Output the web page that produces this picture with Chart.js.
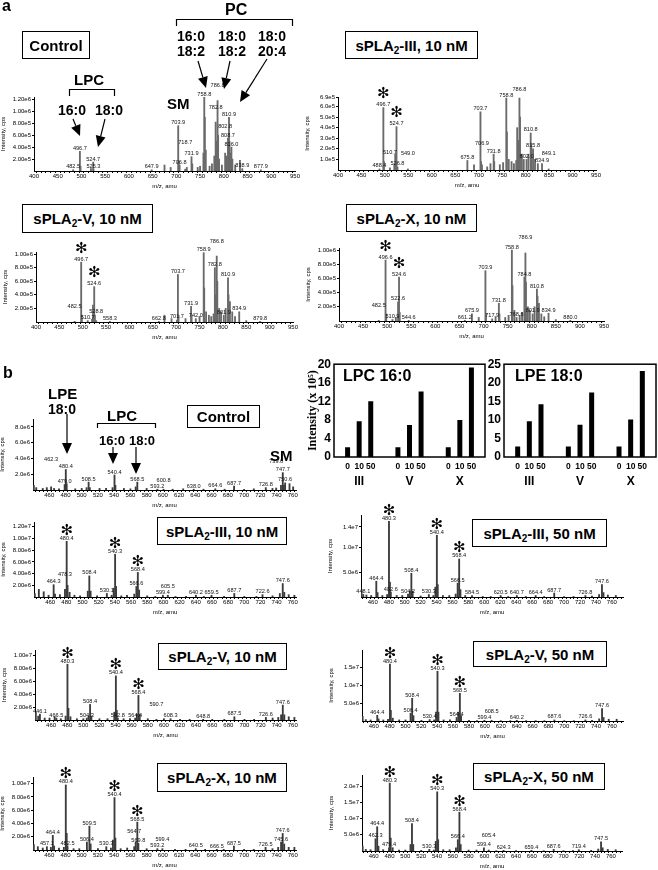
<!DOCTYPE html>
<html>
<head>
<meta charset="utf-8">
<script src="https://cdn.jsdelivr.net/npm/chart.js@4.4.1/dist/chart.umd.min.js"></script>
<style>
  body { margin:0; width:658px; height:870px; position:relative; background:#fff; overflow:hidden;
         font-family:"Liberation Sans", Arial, sans-serif; }
  canvas { position:absolute; }
  .t { position:absolute; font-weight:bold; line-height:1; white-space:nowrap; color:#000; z-index:3; }
  .box { position:absolute; border:1px solid #000; background:#fff; font-weight:bold; font-size:15px;
         display:flex; align-items:center; justify-content:center; white-space:nowrap; z-index:3; box-sizing:border-box; }
  .box sub { font-size:10px; line-height:0; vertical-align:-3px; }
  svg { position:absolute; left:0; top:0; z-index:2; }
</style>
</head>
<body>
<svg id="ann" width="658" height="870"></svg>

<!-- panel a -->
<div class="t" style="left:2px;top:-2px;font-size:16px">a</div>
<div class="t" style="left:225px;top:2px;font-size:16px">PC</div>
<div class="t" style="left:177px;top:29px;font-size:14px;line-height:15px">16:0<br>18:2</div>
<div class="t" style="left:218px;top:29px;font-size:14px;line-height:15px">18:0<br>18:2</div>
<div class="t" style="left:258px;top:29px;font-size:14px;line-height:15px">18:0<br>20:4</div>
<div class="box" style="left:22px;top:31px;width:68px;height:28px"><span>Control</span></div>
<div class="t" style="left:74px;top:72px;font-size:15px">LPC</div>
<div class="t" style="left:58px;top:103px;font-size:14px">16:0</div>
<div class="t" style="left:95px;top:103px;font-size:14px">18:0</div>
<div class="t" style="left:167px;top:96px;font-size:15px">SM</div>
<div class="box" style="left:345px;top:31px;width:133px;height:28px"><span>sPLA<sub>2</sub>-III, 10 nM</span></div>
<div class="box" style="left:22px;top:204px;width:131px;height:29px"><span>sPLA<sub>2</sub>-V, 10 nM</span></div>
<div class="box" style="left:346px;top:204px;width:131px;height:28px"><span>sPLA<sub>2</sub>-X, 10 nM</span></div>

<!-- panel b -->
<div class="t" style="left:3px;top:365px;font-size:16px">b</div>
<div class="t" style="left:48px;top:386px;font-size:15px">LPE</div>
<div class="t" style="left:48px;top:402px;font-size:14px">18:0</div>
<div class="t" style="left:107px;top:408px;font-size:15px">LPC</div>
<div class="box" style="left:187px;top:405px;width:73px;height:23px"><span>Control</span></div>
<div class="t" style="left:99px;top:434px;font-size:13px">16:0</div>
<div class="t" style="left:129px;top:434px;font-size:13px">18:0</div>
<div class="t" style="left:270px;top:448px;font-size:15px">SM</div>
<div class="t" style="left:343px;top:368px;font-size:16px">LPC 16:0</div>
<div class="t" style="left:515px;top:368px;font-size:16px">LPE 18:0</div>
<div class="box" style="left:157px;top:517px;width:130px;height:28px"><span>sPLA<sub>2</sub>-III, 10 nM</span></div>
<div class="box" style="left:158px;top:643px;width:129px;height:27px"><span>sPLA<sub>2</sub>-V, 10 nM</span></div>
<div class="box" style="left:157px;top:763px;width:130px;height:29px"><span>sPLA<sub>2</sub>-X, 10 nM</span></div>
<div class="box" style="left:472px;top:519px;width:135px;height:28px"><span>sPLA<sub>2</sub>-III, 50 nM</span></div>
<div class="box" style="left:473px;top:641px;width:134px;height:26px"><span>sPLA<sub>2</sub>-V, 50 nM</span></div>
<div class="box" style="left:473px;top:763px;width:132px;height:27px"><span>sPLA<sub>2</sub>-X, 50 nM</span></div>

<script>
// ---------- panel a : full scans, m/z 400-950 ----------
const aCtrlMz  = [482.5, 496.7, 498.0, 520.0, 524.7, 525.3, 647.9, 675.0, 688.0, 703.9, 705.0, 706.8, 718.7, 722.0, 731.9, 733.5, 745.0, 750.0, 757.0, 758.8, 760.0, 762.0, 770.0, 775.0, 780.0, 782.8, 784.0, 786.8, 788.0, 790.0, 796.0, 802.8, 806.0, 808.7, 810.9, 812.0, 814.0, 816.0, 818.0, 824.0, 834.0, 838.9, 877.9];
const aCtrlInt = [0.2e5, 3.3e5, 0.8e5, 0.4e5, 1.5e5, 0.3e5, 0.2e5, 1.0e5, 0.6e5, 7.6e5, 1.5e5, 1.0e5, 0.3e5, 0.6e5, 2.4e5, 1.2e5, 0.6e5, 0.8e5, 3.0e5, 12.4e5, 9.0e5, 3.5e5, 0.8e5, 1.2e5, 2.5e5, 8.2e5, 5.0e5, 11.8e5, 6.0e5, 2.0e5, 1.0e5, 3.0e5, 2.5e5, 5.5e5, 9.0e5, 5.0e5, 3.0e5, 4.0e5, 2.0e5, 1.0e5, 1.8e5, 0.4e5, 0.2e5];
const aCtrlLabeled = [482.5, 496.7, 524.7, 525.3, 647.9, 703.9, 706.8, 718.7, 731.9, 758.8, 782.8, 786.8, 802.8, 808.7, 810.9, 816.0, 838.9, 877.9];

const aIIIMz  = [488.4, 496.7, 498.0, 510.7, 520.0, 522.0, 524.7, 526.8, 549.0, 675.8, 690.0, 703.7, 705.0, 706.9, 718.0, 725.0, 731.8, 733.0, 745.0, 752.0, 758.8, 760.0, 764.0, 770.0, 775.0, 780.0, 782.0, 784.5, 786.8, 788.0, 792.0, 796.0, 802.0, 806.0, 810.8, 812.0, 815.8, 820.0, 826.0, 834.9, 849.1];
const aIIIInt = [0.1e5, 5.9e5, 0.8e5, 0.2e5, 0.5e5, 1.5e5, 4.1e5, 0.3e5, 0.1e5, 0.9e5, 0.5e5, 5.5e5, 0.8e5, 0.5e5, 0.3e5, 0.6e5, 1.5e5, 0.8e5, 0.5e5, 0.7e5, 6.8e5, 3.6e5, 1.0e5, 0.8e5, 0.6e5, 0.9e5, 4.0e5, 2.8e5, 6.8e5, 5.0e5, 1.5e5, 1.0e5, 1.0e5, 1.5e5, 3.5e5, 2.5e5, 2.0e5, 1.0e5, 0.6e5, 0.6e5, 0.1e5];
const aIIILabeled = [488.4, 496.7, 510.7, 524.7, 526.8, 549.0, 675.8, 703.7, 706.9, 731.8, 758.8, 786.8, 802.0, 810.8, 815.8, 834.9, 849.1];
const aIIIStars = [496.7, 524.7];

const aVMz  = [482.5, 496.7, 498.0, 510.7, 520.0, 522.0, 524.6, 526.0, 528.8, 558.3, 662.8, 675.0, 690.0, 701.7, 703.7, 705.0, 720.0, 731.9, 733.0, 742.0, 750.0, 758.9, 760.0, 764.0, 770.0, 775.0, 780.0, 782.8, 784.5, 786.8, 788.0, 792.0, 796.0, 801.9, 806.0, 810.9, 812.0, 815.0, 820.0, 826.0, 834.9, 850.0, 879.8];
const aVInt = [0.1e5, 8.8e5, 1.0e5, 0.2e5, 0.4e5, 2.5e5, 5.2e5, 1.0e5, 0.2e5, 0.1e5, 0.1e5, 1.0e5, 0.5e5, 0.3e5, 7.0e5, 1.0e5, 0.5e5, 2.3e5, 1.0e5, 0.5e5, 0.8e5, 10.2e5, 5.0e5, 1.5e5, 1.0e5, 0.8e5, 1.2e5, 8.0e5, 4.0e5, 9.7e5, 6.0e5, 2.0e5, 1.5e5, 1.0e5, 2.0e5, 6.5e5, 4.0e5, 3.0e5, 1.5e5, 0.8e5, 1.5e5, 0.2e5, 0.1e5];
const aVLabeled = [482.5, 496.7, 510.7, 524.6, 528.8, 558.3, 662.8, 701.7, 703.7, 731.9, 742.0, 758.9, 782.8, 786.8, 801.9, 810.9, 834.9, 879.8];
const aVStars = [496.7, 524.6];

const aXMz  = [482.5, 496.6, 498.0, 510.9, 518.0, 522.6, 524.6, 526.0, 544.6, 661.2, 675.9, 690.0, 703.9, 705.0, 717.9, 725.0, 731.8, 733.0, 745.0, 752.0, 758.8, 760.0, 764.0, 768.6, 775.0, 780.0, 784.8, 786.9, 788.0, 792.0, 796.0, 801.9, 806.0, 810.8, 812.0, 815.0, 820.0, 826.0, 834.9, 850.0, 880.0];
const aXInt = [0.1e5, 8.6e5, 1.0e5, 0.2e5, 0.5e5, 2.7e5, 6.2e5, 1.2e5, 0.1e5, 0.1e5, 1.0e5, 0.5e5, 7.1e5, 1.0e5, 0.3e5, 0.6e5, 2.5e5, 1.0e5, 0.5e5, 0.8e5, 10.0e5, 5.0e5, 1.5e5, 0.5e5, 0.8e5, 1.2e5, 6.2e5, 9.6e5, 5.5e5, 2.0e5, 1.5e5, 1.0e5, 2.0e5, 4.5e5, 3.5e5, 2.5e5, 1.0e5, 0.6e5, 1.1e5, 0.2e5, 0.1e5];
const aXLabeled = [482.5, 496.6, 510.9, 522.6, 524.6, 544.6, 661.2, 675.9, 703.9, 717.9, 731.8, 758.8, 768.6, 784.8, 786.9, 801.9, 810.8, 834.9, 880.0];
const aXStars = [496.6, 524.6];

// ---------- panel b : precursor scans, m/z 440-770 ----------
const bCtrlMz  = [441.0, 444.0, 452.0, 457.0, 462.3, 466.0, 472.0, 479.0, 480.4, 481.5, 492.0, 500.0, 506.0, 508.5, 510.0, 522.0, 530.0, 538.0, 540.4, 541.5, 552.0, 560.0, 566.5, 568.5, 580.0, 593.2, 600.8, 612.0, 625.0, 638.0, 650.0, 664.6, 676.0, 687.7, 700.0, 712.0, 726.8, 735.0, 739.6, 745.5, 747.7, 749.0, 750.6, 756.0, 760.5];
const bCtrlInt = [0.6e6, 0.3e6, 0.2e6, 0.3e6, 0.4e6, 0.2e6, 0.15e6, 0.7e6, 2.6e6, 0.8e6, 0.15e6, 0.2e6, 0.3e6, 1.0e6, 0.3e6, 0.2e6, 0.2e6, 0.3e6, 1.9e6, 0.6e6, 0.2e6, 0.15e6, 0.4e6, 1.0e6, 0.2e6, 0.1e6, 0.1e6, 0.1e6, 0.15e6, 0.1e6, 0.1e6, 0.15e6, 0.1e6, 0.5e6, 0.1e6, 0.15e6, 0.3e6, 0.2e6, 0.25e6, 0.6e6, 2.2e6, 0.6e6, 0.9e6, 0.8e6, 0.4e6];
const bCtrlLabeled = [462.3, 479.0, 480.4, 508.5, 540.4, 568.5, 593.2, 600.8, 638.0, 664.6, 687.7, 726.8, 739.6, 747.7, 750.6];

const bIII10Mz  = [441.0, 446.0, 452.0, 458.0, 464.3, 466.0, 472.0, 478.3, 480.4, 481.5, 484.0, 490.0, 497.0, 506.5, 508.4, 510.0, 518.0, 530.1, 536.0, 538.5, 540.3, 541.5, 548.0, 555.0, 564.0, 566.6, 568.4, 570.0, 580.0, 590.0, 599.4, 605.5, 615.0, 628.0, 640.2, 650.0, 659.5, 675.0, 687.7, 700.0, 715.0, 722.6, 735.0, 744.0, 747.6, 749.5, 755.0, 762.0];
const bIII10Int = [0.6e6, 1.3e6, 0.9e6, 0.3e6, 2.1e6, 0.5e6, 0.4e6, 1.3e6, 9.5e6, 2.0e6, 0.8e6, 0.3e6, 0.2e6, 1.0e6, 3.6e6, 1.0e6, 0.2e6, 0.6e6, 0.3e6, 1.5e6, 7.3e6, 1.8e6, 0.2e6, 0.3e6, 0.5e6, 1.8e6, 4.2e6, 1.2e6, 0.2e6, 0.1e6, 0.3e6, 0.3e6, 0.1e6, 0.1e6, 0.3e6, 0.1e6, 0.3e6, 0.1e6, 0.6e6, 0.1e6, 0.1e6, 0.4e6, 0.2e6, 0.6e6, 2.3e6, 0.8e6, 0.4e6, 0.3e6];
const bIII10Labeled = [464.3, 478.3, 480.4, 508.4, 530.1, 540.3, 566.6, 568.4, 599.4, 605.5, 640.2, 659.5, 687.7, 722.6, 747.6];
const bIII10Stars = [480.4, 540.3, 568.4];

const bV10Mz  = [441.0, 444.0, 446.1, 452.0, 458.0, 464.4, 466.5, 472.0, 478.0, 480.3, 481.5, 484.0, 492.0, 500.0, 504.3, 506.5, 508.4, 510.0, 520.0, 530.0, 538.5, 540.4, 541.5, 542.8, 550.0, 558.0, 564.4, 566.5, 568.4, 570.0, 580.0, 590.7, 600.0, 608.3, 620.0, 632.0, 648.8, 660.0, 675.0, 687.5, 700.0, 712.0, 726.6, 735.0, 742.0, 745.5, 747.6, 749.5, 755.0, 762.0];
const bV10Int = [1.2e6, 0.6e6, 0.9e6, 0.3e6, 0.3e6, 0.5e6, 0.3e6, 0.2e6, 0.6e6, 8.6e6, 1.8e6, 0.5e6, 0.2e6, 0.2e6, 0.3e6, 0.6e6, 2.4e6, 0.6e6, 0.2e6, 0.2e6, 1.2e6, 6.8e6, 1.5e6, 0.3e6, 0.2e6, 0.2e6, 0.3e6, 0.9e6, 3.8e6, 0.9e6, 0.2e6, 0.1e6, 0.2e6, 0.2e6, 0.1e6, 0.1e6, 0.1e6, 0.1e6, 0.1e6, 0.5e6, 0.1e6, 0.1e6, 0.4e6, 0.3e6, 0.4e6, 0.8e6, 2.3e6, 0.8e6, 0.5e6, 0.4e6];
const bV10Labeled = [446.1, 466.5, 480.3, 504.3, 508.4, 540.4, 542.8, 564.4, 568.4, 590.7, 608.3, 648.8, 687.5, 726.6, 747.6];
const bV10Stars = [480.3, 540.4, 568.4];

const bX10Mz  = [441.0, 446.0, 452.0, 457.1, 462.0, 464.4, 466.0, 472.0, 478.0, 480.4, 481.5, 482.5, 490.0, 497.0, 506.4, 509.5, 511.0, 520.0, 530.3, 536.0, 538.5, 540.4, 541.5, 548.0, 556.0, 564.7, 566.5, 568.5, 569.8, 580.0, 593.2, 599.4, 615.0, 628.0, 640.5, 652.0, 666.5, 675.0, 687.5, 700.0, 712.0, 726.5, 735.0, 742.0, 745.6, 747.6, 749.5, 755.0, 762.0];
const bX10Int = [0.8e6, 0.5e6, 0.3e6, 0.5e6, 0.4e6, 2.2e6, 0.6e6, 0.3e6, 0.4e6, 9.8e6, 2.5e6, 0.6e6, 0.2e6, 0.2e6, 1.2e6, 3.6e6, 0.9e6, 0.2e6, 0.5e6, 0.3e6, 1.5e6, 7.9e6, 1.8e6, 0.2e6, 0.3e6, 0.5e6, 1.2e6, 4.2e6, 1.0e6, 0.2e6, 0.2e6, 0.2e6, 0.1e6, 0.1e6, 0.2e6, 0.1e6, 0.1e6, 0.1e6, 0.6e6, 0.1e6, 0.1e6, 0.4e6, 0.2e6, 0.4e6, 1.2e6, 2.5e6, 0.9e6, 0.4e6, 0.4e6];
const bX10Labeled = [457.1, 464.4, 480.4, 482.5, 506.4, 509.5, 530.3, 540.4, 564.7, 568.5, 569.8, 593.2, 599.4, 640.5, 666.5, 687.5, 726.5, 745.6, 747.6];
const bX10Stars = [480.4, 540.4, 568.5];

const bIII50Mz  = [446.0, 448.1, 452.0, 458.0, 464.4, 466.0, 472.0, 478.0, 480.3, 481.5, 482.6, 490.0, 497.0, 504.2, 506.5, 508.4, 510.0, 520.0, 530.3, 536.0, 538.5, 540.4, 541.5, 548.0, 556.0, 564.0, 566.5, 568.4, 570.0, 576.0, 584.5, 598.0, 608.0, 620.5, 630.0, 640.7, 652.0, 664.4, 675.0, 687.7, 700.0, 712.0, 726.8, 735.0, 744.0, 747.6, 749.5, 755.0, 765.0];
const bIII50Int = [1.5e6, 0.5e6, 0.4e6, 0.3e6, 3.2e6, 0.9e6, 0.3e6, 0.5e6, 15.3e6, 3.0e6, 1.0e6, 0.3e6, 0.3e6, 0.6e6, 1.2e6, 4.8e6, 1.2e6, 0.2e6, 0.5e6, 0.3e6, 2.0e6, 12.5e6, 2.5e6, 0.3e6, 0.3e6, 0.6e6, 2.8e6, 7.7e6, 1.5e6, 0.3e6, 0.3e6, 0.1e6, 0.1e6, 0.3e6, 0.1e6, 0.3e6, 0.1e6, 0.3e6, 0.1e6, 0.8e6, 0.1e6, 0.1e6, 0.3e6, 0.2e6, 0.5e6, 2.5e6, 0.9e6, 0.4e6, 0.3e6];
const bIII50Labeled = [448.1, 464.4, 480.3, 482.6, 504.2, 508.4, 530.3, 540.4, 566.5, 568.4, 584.5, 620.5, 640.7, 664.4, 687.7, 726.8, 747.6];
const bIII50Stars = [480.3, 540.4, 568.4];

const bV50Mz  = [446.0, 450.0, 456.0, 464.4, 466.0, 472.0, 478.0, 480.4, 481.5, 484.0, 492.0, 500.0, 506.4, 508.4, 510.0, 520.0, 530.4, 536.0, 538.5, 540.3, 541.5, 548.0, 556.0, 564.4, 566.5, 568.5, 570.0, 580.0, 590.0, 599.4, 608.5, 620.0, 632.0, 640.2, 652.0, 664.0, 675.0, 687.6, 700.0, 712.0, 726.6, 735.0, 744.0, 747.6, 749.5, 756.0, 766.0];
const bV50Int = [1.3e6, 0.4e6, 0.3e6, 1.6e6, 0.6e6, 0.3e6, 0.5e6, 16.0e6, 3.0e6, 0.8e6, 0.3e6, 0.3e6, 2.2e6, 6.4e6, 1.5e6, 0.2e6, 0.4e6, 0.3e6, 2.5e6, 14.0e6, 2.5e6, 0.3e6, 0.3e6, 1.0e6, 2.5e6, 7.8e6, 1.5e6, 0.2e6, 0.1e6, 0.2e6, 0.2e6, 0.1e6, 0.1e6, 0.2e6, 0.1e6, 0.1e6, 0.1e6, 0.3e6, 0.1e6, 0.1e6, 0.3e6, 0.2e6, 0.6e6, 3.5e6, 1.0e6, 0.5e6, 0.5e6];
const bV50Labeled = [464.4, 480.4, 506.4, 508.4, 530.4, 540.3, 564.4, 568.5, 599.4, 608.5, 640.2, 687.6, 726.6, 747.6];
const bV50Stars = [480.4, 540.3, 568.5];

const bX50Mz  = [446.0, 450.0, 456.0, 462.3, 464.4, 466.0, 472.0, 479.4, 480.3, 481.5, 484.0, 492.0, 500.0, 506.5, 508.4, 510.0, 520.0, 530.3, 536.0, 538.5, 540.3, 541.5, 548.0, 556.0, 564.0, 566.4, 568.4, 570.0, 580.0, 590.0, 599.4, 605.4, 615.0, 624.3, 640.0, 659.4, 675.0, 687.6, 700.0, 712.0, 719.4, 735.0, 744.0, 747.5, 749.5, 756.0, 766.0];
const bX50Int = [1.5e6, 0.5e6, 0.4e6, 3.8e6, 7.5e6, 1.5e6, 0.4e6, 1.0e6, 21.0e6, 4.0e6, 1.0e6, 0.3e6, 0.3e6, 2.0e6, 8.5e6, 2.0e6, 0.2e6, 0.5e6, 0.3e6, 3.0e6, 18.3e6, 3.5e6, 0.4e6, 0.4e6, 1.0e6, 3.5e6, 12.0e6, 2.0e6, 0.3e6, 0.3e6, 1.0e6, 0.3e6, 0.1e6, 0.2e6, 0.1e6, 0.2e6, 0.1e6, 0.5e6, 0.1e6, 0.1e6, 0.4e6, 0.2e6, 0.6e6, 2.8e6, 1.0e6, 0.5e6, 0.4e6];
const bX50Labeled = [462.3, 464.4, 479.4, 480.3, 508.4, 530.3, 540.3, 566.4, 568.4, 599.4, 605.4, 624.3, 659.4, 687.6, 719.4, 747.5];
const bX50Stars = [480.3, 540.3, 568.4];

// ---------- bar charts: intensity (x 10^5) ----------
const strains = ['III', 'V', 'X'];
const doses = ['0', '10', '50'];
const lpc0  = [2.1, 2.1, 2.1];
const lpc10 = [7.7, 6.9, 8.0];
const lpc50 = [12.0, 14.1, 19.3];
const lpe0  = [2.8, 2.8, 2.8];
const lpe10 = [9.6, 8.7, 10.1];
const lpe50 = [14.2, 17.4, 23.2];

Chart.defaults.font.family = '"Liberation Sans", Arial, sans-serif';
Chart.defaults.color = '#000';

const exp2 = v => v.toExponential(2).replace('+', '');
const exp1 = v => v.toExponential(1).replace('+', '');
function range(a, b, s) { const r = []; for (let v = a; v <= b + 1e-9; v += s) r.push(v); return r; }

function makeCanvas(left, top, w, h) {
  const c = document.createElement('canvas');
  c.width = w; c.height = h;
  c.style.left = left + 'px'; c.style.top = top + 'px';
  c.style.width = w + 'px'; c.style.height = h + 'px';
  document.body.appendChild(c);
  return c;
}

// peak m/z labels + asterisks
const peakLabels = {
  id: 'peakLabels',
  afterDatasetsDraw(chart) {
    const ds = chart.data.datasets[0];
    const { ctx, scales: { x, y } } = chart;
    ctx.save();
    ctx.font = '5.6px "Liberation Sans", Arial, sans-serif';
    ctx.fillStyle = '#111';
    ctx.textAlign = 'center';
    ctx.textBaseline = 'alphabetic';
    const placed = [];
    ds.data.filter(p => ds.labeled.includes(p.x))
      .sort((p, q) => q.y - p.y)
      .forEach(p => {
        const txt = p.x.toFixed(1);
        const w = ctx.measureText(txt).width;
        const px = x.getPixelForValue(p.x);
        let py = y.getPixelForValue(p.y) - 1.5;
        for (let k = 0; k < 8 && placed.some(b => Math.abs(b.x - px) < (b.w + w) / 2 + 1 && Math.abs(b.y - py) < 6); k++) py -= 6;
        placed.push({ x: px, y: py, w });
        ctx.fillText(txt, px, py);
        if (ds.stars.includes(p.x)) {
          ctx.save();
          ctx.font = '15px "DejaVu Sans"';
          ctx.fillStyle = '#000';
          ctx.fillText('\u273B', px, py - ds.starGap);
          ctx.restore();
        }
      });
    ctx.restore();
  }
};

function spectrum(g, mz, inten, labeled, stars, o) {
  const YW = 34, PT = 34, PR = 8, XH = 19;
  const c = makeCanvas(g.L - YW, g.T - PT, g.R - g.L + YW + PR, PT + g.B - g.T + XH);
  new Chart(c, {
    type: 'bar',
    data: { datasets: [{
      data: mz.map((m, i) => ({ x: m, y: inten[i] })),
      labeled, stars: stars || [], starGap: o.starGap,
      backgroundColor: o.color, barThickness: 1.2, borderWidth: 0
    }] },
    options: {
      responsive: false, animation: false,
      layout: { padding: { top: PT, right: PR, left: 0, bottom: 0 } },
      plugins: { legend: { display: false }, tooltip: { enabled: false } },
      scales: {
        x: {
          type: 'linear', min: o.xmin, max: o.xmax, offset: false,
          afterFit: s => { s.height = XH; },
          afterBuildTicks: s => { s.ticks = range(o.x0, o.xmax, o.minor).map(v => ({ value: v })); },
          ticks: { autoSkip: false, maxRotation: 0, padding: 0, font: { size: 6 },
                   callback: v => (v % o.major === 0 ? String(v) : '') },
          grid: { drawOnChartArea: false, tickLength: 2, color: '#000' },
          border: { color: '#000' },
          title: { display: true, text: 'm/z, amu', font: { size: 6 }, padding: 0 }
        },
        y: {
          min: 0, max: o.ymax,
          afterFit: s => { s.width = YW; },
          afterBuildTicks: s => { s.ticks = o.yticks.map(v => ({ value: v })); },
          ticks: { padding: 1, font: { size: 6 }, callback: v => o.fmt(v) },
          grid: { drawOnChartArea: false, tickLength: 2, color: '#000' },
          border: { color: '#000' },
          title: { display: true, text: 'Intensity, cps', font: { size: 6 }, padding: 0 }
        }
      }
    },
    plugins: [peakLabels]
  });
}

const A = { xmin: 400, xmax: 950, x0: 400, minor: 10, major: 50, color: '#6a6a6a', starGap: 8 };
const BL = { xmin: 440, xmax: 764, x0: 445, minor: 5, major: 20, color: '#3c3c3c', starGap: 5 };
const BR = { xmin: 445.2, xmax: 774, x0: 450, minor: 5, major: 20, color: '#3c3c3c', starGap: 5 };

spectrum({ L: 34, R: 295, T: 97, B: 171 }, aCtrlMz, aCtrlInt, aCtrlLabeled, [],
  { ...A, ymax: 1.24e6, yticks: [2e5, 4e5, 6e5, 8e5, 1e6, 1.2e6], fmt: exp2 });
spectrum({ L: 338, R: 596, T: 97, B: 170 }, aIIIMz, aIIIInt, aIIILabeled, aIIIStars,
  { ...A, ymax: 6.9e5, yticks: [1e5, 2e5, 3e5, 4e5, 5e5, 6e5, 6.9e5], fmt: exp1 });
spectrum({ L: 36, R: 293, T: 252, B: 322 }, aVMz, aVInt, aVLabeled, aVStars,
  { ...A, ymax: 1.03e6, yticks: [2e5, 4e5, 6e5, 8e5, 1e6], fmt: exp2 });
spectrum({ L: 339, R: 604, T: 248, B: 321 }, aXMz, aXInt, aXLabeled, aXStars,
  { ...A, ymax: 1.03e6, yticks: [2e5, 4e5, 6e5, 8e5, 1e6], fmt: exp2 });

spectrum({ L: 33, R: 296, T: 419, B: 490 }, bCtrlMz, bCtrlInt, bCtrlLabeled, [],
  { ...BL, ymax: 9e6, yticks: [2e6, 4e6, 6e6, 8e6], fmt: exp1 });
spectrum({ L: 34, R: 296, T: 522, B: 597 }, bIII10Mz, bIII10Int, bIII10Labeled, bIII10Stars,
  { ...BL, ymax: 1.28e7, yticks: [2e6, 4e6, 6e6, 8e6, 1e7, 1.2e7], fmt: exp2 });
spectrum({ L: 35, R: 296, T: 650, B: 720 }, bV10Mz, bV10Int, bV10Labeled, bV10Stars,
  { ...BL, ymax: 1.08e7, yticks: [2e6, 4e6, 6e6, 8e6, 1e7], fmt: exp2 });
spectrum({ L: 33, R: 296, T: 777, B: 850 }, bX10Mz, bX10Int, bX10Labeled, bX10Stars,
  { ...BL, ymax: 1.1e7, yticks: [2e6, 4e6, 6e6, 8e6, 1e7], fmt: exp2 });
spectrum({ L: 361, R: 623, T: 515, B: 597 }, bIII50Mz, bIII50Int, bIII50Labeled, bIII50Stars,
  { ...BR, ymax: 1.66e7, yticks: [5e6, 1e7, 1.42e7], fmt: exp1 });
spectrum({ L: 362, R: 623, T: 650, B: 721 }, bV50Mz, bV50Int, bV50Labeled, bV50Stars,
  { ...BR, ymax: 2.0e7, yticks: [5e6, 1e7, 1.5e7], fmt: exp1 });
spectrum({ L: 362, R: 622, T: 775, B: 851 }, bX50Mz, bX50Int, bX50Labeled, bX50Stars,
  { ...BR, ymax: 2.35e7, yticks: [5e6, 1e7, 1.5e7, 2e7], fmt: exp1 });

// framed bar panels with dose labels under each bar
const framePlugin = {
  id: 'frame',
  afterDraw(chart) {
    const { ctx, chartArea: a } = chart;
    ctx.save();
    ctx.lineWidth = 1.5; ctx.strokeStyle = '#000';
    ctx.strokeRect(a.left, a.top, a.right - a.left, a.bottom - a.top);
    ctx.font = 'bold 8.5px "Liberation Sans", Arial, sans-serif';
    ctx.fillStyle = '#000'; ctx.textAlign = 'center'; ctx.textBaseline = 'middle';
    chart.data.datasets.forEach((ds, i) => {
      chart.getDatasetMeta(i).data.forEach(el => ctx.fillText(ds.label, el.x, a.bottom + 10));
    });
    ctx.restore();
  }
};

function barPanel(g, vals, ymax, step, ytitle) {
  const YW = g.yw, PT = 10, PR = 4, XH = 32;
  const c = makeCanvas(g.L - YW, g.T - PT, g.R - g.L + YW + PR, PT + g.B - g.T + XH);
  new Chart(c, {
    type: 'bar',
    data: { labels: strains, datasets: doses.map((d, i) => ({
      label: d, data: vals[i], backgroundColor: '#000', categoryPercentage: 0.69, barPercentage: 0.43 })) },
    options: {
      responsive: false, animation: false,
      layout: { padding: { top: PT, right: PR, left: 0, bottom: 0 } },
      plugins: { legend: { display: false }, tooltip: { enabled: false } },
      scales: {
        x: { afterFit: s => { s.height = XH; }, grid: { display: false, drawTicks: false }, border: { display: false },
             ticks: { padding: 17, font: { size: 12, weight: 'bold' } } },
        y: { min: 0, max: ymax, afterFit: s => { s.width = YW; },
             ticks: { stepSize: step, padding: 3, font: { size: 12, weight: 'bold' } },
             grid: { display: false, drawTicks: false }, border: { display: false },
             title: { display: !!ytitle, text: ytitle, padding: 0,
                      font: { family: '"Liberation Serif", "Times New Roman", serif', size: 12, weight: 'bold' } } }
      }
    },
    plugins: [framePlugin]
  });
}

barPanel({ L: 334, R: 485, T: 364, B: 457, yw: 28 }, [lpc0, lpc10, lpc50], 20, 4, 'Intensity (x 10\u2075)');
barPanel({ L: 504, R: 656, T: 364, B: 457, yw: 20 }, [lpe0, lpe10, lpe50], 25, 5, '');

// brackets and arrows
const svg = document.getElementById('ann');
function path(d) { svg.insertAdjacentHTML('beforeend', `<path d="${d}" fill="none" stroke="#000" stroke-width="1.2"/>`); }
function arrow(x1, y1, x2, y2) {
  const a = Math.atan2(y2 - y1, x2 - x1), L = 11, W = 5;
  const bx = x2 - L * Math.cos(a), by = y2 - L * Math.sin(a);
  const px = -Math.sin(a) * W, py = Math.cos(a) * W;
  svg.insertAdjacentHTML('beforeend',
    `<line x1="${x1}" y1="${y1}" x2="${bx}" y2="${by}" stroke="#000" stroke-width="1.2"/>` +
    `<polygon points="${x2},${y2} ${bx + px},${by + py} ${bx - px},${by - py}" fill="#000"/>`);
}
path('M176.5 26 V19.5 H292.5 V26');
path('M69.5 96 V89.5 H114.5 V96');
path('M97.5 428 V423.5 H155.5 V428');
arrow(198, 61, 206, 88);
arrow(230, 61, 224, 89);
arrow(267, 59, 240, 102);
arrow(73, 119, 80, 136);
arrow(105, 119, 98, 147);
arrow(67, 414, 67, 454);
arrow(113, 447, 113, 464);
arrow(136, 447, 136, 474);
</script>
</body>
</html>
